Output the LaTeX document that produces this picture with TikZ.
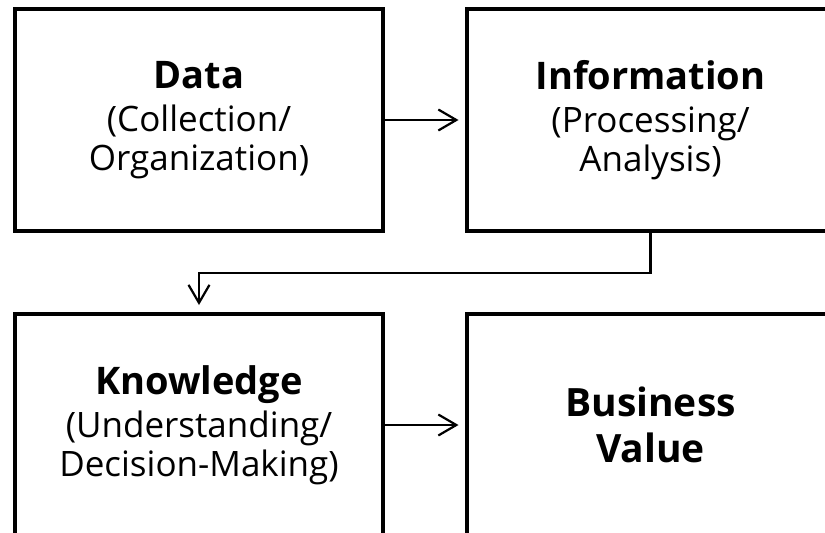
\documentclass[tikz,border=0pt]{standalone}
\usepackage{fontspec}
\setmainfont{Open Sans}
\usetikzlibrary{arrows.meta}
\begin{document}
\begin{tikzpicture}[x=1pt,y=-1pt,
  stage/.style={draw=black, line width=4pt, rectangle,
    minimum width=368pt, minimum height=222pt, inner sep=0pt,
    align=center, font=\fontsize{35}{38.5}\selectfont},
  conn/.style={draw=black, line width=2.2pt,
    -{Straight Barb[length=18pt,width=21pt,line width=2.2pt]}},
  head/.style={font=\fontsize{38}{43}\selectfont\bfseries}
]
\useasboundingbox (0,0) rectangle (825,533);
\clip (0,0) rectangle (825,533);

% four stages of the value chain
\node[stage] (data) at (199,120)
  {{\fontsize{38}{43}\selectfont\bfseries Data}\\[5pt]
   (Collection/\\Organization)};
\node[stage] (info) at (650.5,120)
  {{\fontsize{38}{43}\selectfont\bfseries Information}\\[5pt]
   (Processing/\\Analysis)};
\node[stage] (know) at (199,425)
  {{\fontsize{38}{43}\selectfont\bfseries Knowledge}\\[5pt]
   (Understanding/\\Decision-Making)};
\node[stage, font=\fontsize{39}{46}\selectfont\bfseries] (value) at (650.5,425)
  {Business\\Value};

% connectors
\draw[conn, shorten >=6pt] (data.east) -- (data.east -| info.west);
\draw[conn, shorten >=7pt] (info.south) -- ++(0,40) -| (know.north);
\draw[conn, shorten >=6pt] (know.east) -- (know.east -| value.west);
\end{tikzpicture}
\end{document}
